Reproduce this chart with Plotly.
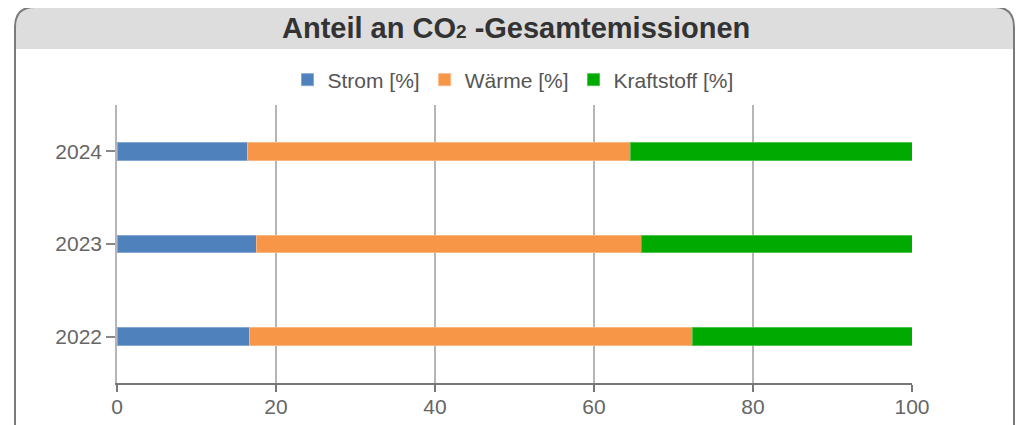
import plotly.graph_objects as go

years = ["2022", "2023", "2024"]
strom = [16.7, 17.6, 16.4]
waerme = [55.7, 48.4, 48.2]
kraftstoff = [27.6, 34.0, 35.4]

series_names = ["Strom [%]", "Wärme [%]", "Kraftstoff [%]"]
colors = ["#4f81bd", "#f79646", "#00aa00"]
line_colors = ["#84a7d3", "#f9b684", "#4cc44c"]

W, H = 1024, 425
OFF = 8  # page body margin compensation
L, R, T, B = 117 - OFF, 912 - OFF, 105 - OFF, 383 - OFF

fig = go.Figure()
for name, vals, c, lc in zip(series_names, [strom, waerme, kraftstoff], colors, line_colors):
    fig.add_trace(go.Bar(
        y=years, x=vals, name=name, orientation="h",
        marker=dict(color=c, line=dict(color=lc, width=1)),
        width=0.19,
    ))

def px(x):
    return (x - OFF - L) / (R - L)

def py(y):
    return (B - (y - OFF)) / (B - T)

# panel border and header (reference pixel coords)
x0, x1, ytop, rad, yhead = 15, 1014, 7, 20, 49
ybot = 460
header_path = (
    f"M {px(x0)} {py(yhead)} L {px(x0)} {py(ytop+rad)} "
    f"Q {px(x0)} {py(ytop)} {px(x0+rad)} {py(ytop)} "
    f"L {px(x1-rad)} {py(ytop)} Q {px(x1)} {py(ytop)} {px(x1)} {py(ytop+rad)} "
    f"L {px(x1)} {py(yhead)} Z"
)
border_path = (
    f"M {px(x0)} {py(ybot)} L {px(x0)} {py(ytop+rad)} "
    f"Q {px(x0)} {py(ytop)} {px(x0+rad)} {py(ytop)} "
    f"L {px(x1-rad)} {py(ytop)} Q {px(x1)} {py(ytop)} {px(x1)} {py(ytop+rad)} "
    f"L {px(x1)} {py(ybot)}"
)
shapes = [
    dict(type="path", xref="paper", yref="paper", path=header_path,
         fillcolor="#dddddd", line=dict(width=0), layer="below"),
    dict(type="path", xref="paper", yref="paper", path=border_path,
         line=dict(color="#7a7a7a", width=2), layer="above"),
]

font_family = "Liberation Sans, Arial, sans-serif"

fig.update_layout(
    width=W, height=H,
    margin=dict(l=L, r=W - R, t=T, b=H - B, pad=0),
    paper_bgcolor="white", plot_bgcolor="white",
    barmode="stack",
    showlegend=True,
    legend=dict(orientation="h", x=px(513), xanchor="center", y=py(80), yanchor="middle",
                font=dict(family=font_family, size=21, color="#555555"),
                traceorder="normal", itemclick=False, bgcolor="rgba(0,0,0,0)"),
    shapes=shapes,
    annotations=[dict(
        text="<b>Anteil an CO<span style='font-size:19px'>2</span> -Gesamtemissionen</b>",
        xref="paper", yref="paper", x=px(516), y=py(28),
        xanchor="center", yanchor="middle", showarrow=False,
        font=dict(family=font_family, size=29, color="#333333"),
    )],
    xaxis=dict(range=[0, 100], tickvals=[0, 20, 40, 60, 80, 100],
               showgrid=True, gridcolor="#b5b5b5", gridwidth=1.5,
               zeroline=False, showline=True, linecolor="#777777", linewidth=2,
               ticks="outside", ticklen=7, tickcolor="#777777", tickwidth=1.5,
               ticklabelstandoff=-3,
               tickfont=dict(family=font_family, size=21, color="#666666"),
               fixedrange=True),
    yaxis=dict(categoryorder="array", categoryarray=years, range=[-0.5, 2.5],
               showgrid=False, showline=True, linecolor="#b5b5b5", linewidth=1.5,
               ticks="outside", ticklen=9, tickcolor="#888888", tickwidth=1.5,
               tickfont=dict(family=font_family, size=21, color="#666666"),
               fixedrange=True),
)

fig.write_html("out.html")
